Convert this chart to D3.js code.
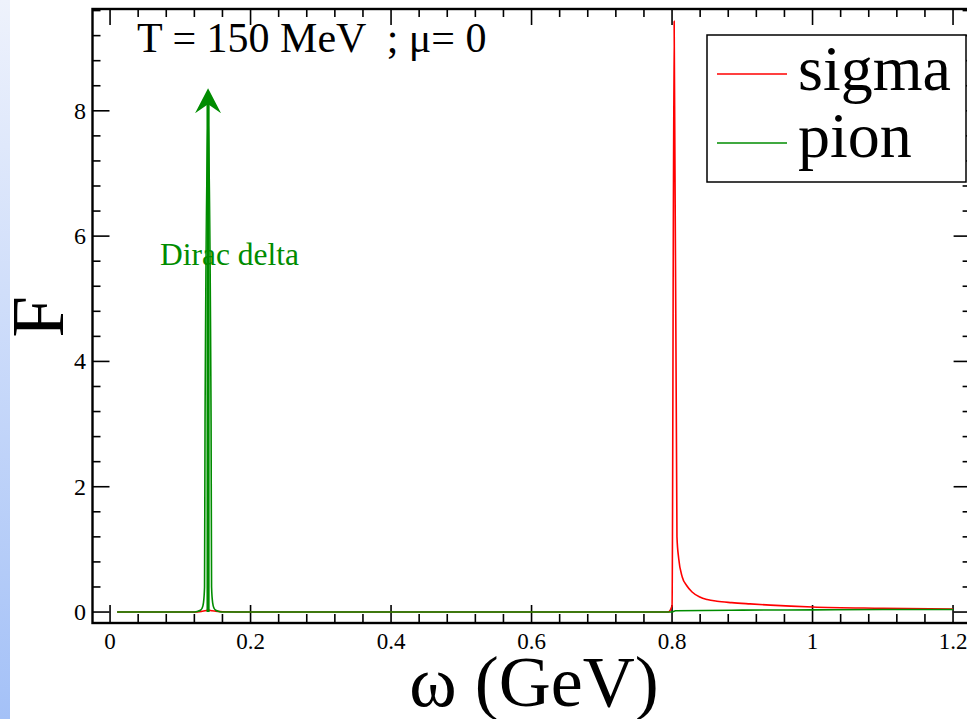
<!DOCTYPE html>
<html>
<head>
<meta charset="utf-8">
<script src="https://cdn.jsdelivr.net/npm/d3@7"></script>
<style>
  body { margin: 0; background: #fff; }
  svg { display: block; }
  text { font-family: "Liberation Serif", "Times New Roman", serif; }
</style>
</head>
<body>
<div id="chart"></div>
<script>
// Data
var sigmaX = [0.01, 0.12, 0.13, 0.135, 0.14, 0.145, 0.15, 0.16, 0.2, 0.5, 0.7945, 0.8, 0.803, 0.807, 0.8095, 0.8145, 0.821, 0.8285, 0.8395, 0.85, 0.864, 0.885, 0.911, 0.94, 1.0, 1.1, 1.2];
var sigmaY = [0, 0, 0.01, 0.02, 0.03, 0.02, 0.015, 0.005, 0, 0, 0, 0.1, 9.43, 1.2, 0.85, 0.56, 0.42, 0.32, 0.24, 0.2, 0.172, 0.15, 0.13, 0.11, 0.08, 0.06, 0.046];

var pionX = [0.01, 0.118, 0.124, 0.128, 0.131, 0.133, 0.1345, 0.1352, 0.1395, 0.1438, 0.1445, 0.146, 0.148, 0.151, 0.155, 0.161, 0.2, 0.5, 0.799, 0.805, 0.9, 1.0, 1.1, 1.2];
var pionY = [0, 0, 0.01, 0.025, 0.06, 0.15, 0.4, 3.0, 8.0, 3.0, 0.4, 0.15, 0.06, 0.025, 0.01, 0, 0, 0, 0, 0.02, 0.03, 0.035, 0.04, 0.04];

var xMajor = [0, 0.2, 0.4, 0.6, 0.8, 1, 1.2];
var yMajor = [0, 2, 4, 6, 8];

var arrowX = [0.1395, 0.1395];
var arrowY = [0, 8.36];

var red = "#ff0000", green = "#008c00";

var W = 967, H = 719;
var x = d3.scaleLinear().domain([-0.025, 1.225]).range([92.5, 970.6]);
var y = d3.scaleLinear().domain([-0.175, 9.625]).range([623, 9]);

var svg = d3.select("#chart").append("svg")
    .attr("width", W)
    .attr("height", H);

// blue strip on the left edge
var grad = svg.append("defs").append("linearGradient")
    .attr("id", "strip").attr("x1", 0).attr("y1", 0).attr("x2", 0).attr("y2", 1);
grad.append("stop").attr("offset", "0%").attr("stop-color", "#eef2fc");
grad.append("stop").attr("offset", "100%").attr("stop-color", "#a4c1f7");
svg.append("rect").attr("x", 0).attr("y", 0).attr("width", 10).attr("height", H)
    .attr("fill", "url(#strip)");

svg.select("defs").append("clipPath").attr("id", "plotclip")
  .append("rect")
    .attr("x", x.range()[0]).attr("y", y.range()[1])
    .attr("width", x.range()[1] - x.range()[0])
    .attr("height", y.range()[0] - y.range()[1]);

// minor ticks
var xMinor = d3.range(0, 61).map(function(i) { return i * 0.04; }).filter(function(v) { return v <= 1.22; });
var yMinor = d3.range(0, 25).map(function(i) { return i * 0.4; }).filter(function(v) { return v <= 9.62; });

function isMajor(v, step) { return Math.abs(v / step - Math.round(v / step)) < 1e-6; }

// inward ticks on all four sides
var axisG = svg.append("g").attr("stroke", "#000").attr("stroke-width", 1.6);
xMinor.forEach(function(v) {
    var len = isMajor(v, 0.2) ? 18 : 9;
    axisG.append("line").attr("x1", x(v)).attr("x2", x(v))
        .attr("y1", y.range()[0]).attr("y2", y.range()[0] - len);
    axisG.append("line").attr("x1", x(v)).attr("x2", x(v))
        .attr("y1", y.range()[1]).attr("y2", y.range()[1] + (isMajor(v, 0.2) ? 16 : 8));
});
yMinor.forEach(function(v) {
    var len = isMajor(v, 2) ? 17 : 8;
    axisG.append("line").attr("y1", y(v)).attr("y2", y(v))
        .attr("x1", x.range()[0]).attr("x2", x.range()[0] + len);
    axisG.append("line").attr("y1", y(v)).attr("y2", y(v))
        .attr("x1", x.range()[1]).attr("x2", x.range()[1] - len);
});

// frame
svg.append("rect")
    .attr("x", x.range()[0]).attr("y", y.range()[1])
    .attr("width", x.range()[1] - x.range()[0])
    .attr("height", y.range()[0] - y.range()[1])
    .attr("fill", "none").attr("stroke", "#000").attr("stroke-width", 2.4);

// tick labels
svg.append("g").selectAll("text").data(xMajor).enter().append("text")
    .attr("x", function(d) { return x(d); })
    .attr("y", 649)
    .attr("text-anchor", "middle")
    .attr("font-size", 23)
    .text(function(d) { return d; });

svg.append("g").selectAll("text").data(yMajor).enter().append("text")
    .attr("x", 86)
    .attr("y", function(d) { return y(d) + 8; })
    .attr("text-anchor", "end")
    .attr("font-size", 24)
    .text(function(d) { return d; });

// axis titles
svg.append("text")
    .attr("x", 534).attr("y", 706)
    .attr("text-anchor", "middle")
    .attr("font-size", 72)
    .text("ω (GeV)");

svg.append("text")
    .attr("transform", "translate(63,317) rotate(-90)")
    .attr("text-anchor", "middle")
    .attr("font-size", 75)
    .text("F");

// curves
var line = d3.line()
    .curve(d3.curveMonotoneX)
    .x(function(d) { return x(d[0]); })
    .y(function(d) { return y(d[1]); });

var plot = svg.append("g").attr("clip-path", "url(#plotclip)");

plot.append("path")
    .attr("d", line(d3.zip(sigmaX, sigmaY)))
    .attr("fill", "none").attr("stroke", red).attr("stroke-width", 1.6);

plot.append("path")
    .attr("d", line(d3.zip(pionX, pionY)))
    .attr("fill", "none").attr("stroke", green).attr("stroke-width", 1.6);

// Dirac delta arrow
var ax = x(arrowX[1]), ay = y(arrowY[1]);
plot.append("line")
    .attr("x1", x(arrowX[0])).attr("y1", y(arrowY[0]))
    .attr("x2", ax).attr("y2", ay + 6)
    .attr("stroke", green).attr("stroke-width", 3.2);
plot.append("path")
    .attr("d", "M" + ax + "," + ay + "L" + (ax - 13) + "," + (ay + 25) +
               "L" + ax + "," + (ay + 16) + "L" + (ax + 13) + "," + (ay + 25) + "Z")
    .attr("fill", green);

svg.append("text")
    .attr("x", 160).attr("y", 265)
    .attr("font-size", 31.5)
    .attr("fill", green)
    .text("Dirac delta");

svg.append("text")
    .attr("x", 137).attr("y", 52)
    .attr("font-size", 42)
    .style("white-space", "pre")
    .text("T = 150 MeV  ; μ= 0");

// legend
var leg = svg.append("g");
leg.append("rect")
    .attr("x", 707).attr("y", 35).attr("width", 259).attr("height", 147)
    .attr("fill", "#fff").attr("stroke", "#000").attr("stroke-width", 1.5);
var legItems = [["sigma", red, 74, 90], ["pion", green, 143, 157]];
legItems.forEach(function(it) {
    leg.append("line")
        .attr("x1", 717).attr("x2", 787).attr("y1", it[2]).attr("y2", it[2])
        .attr("stroke", it[1]).attr("stroke-width", 1.5);
    leg.append("text")
        .attr("x", 798).attr("y", it[3])
        .attr("font-size", 64)
        .text(it[0]);
});
</script>
</body>
</html>
